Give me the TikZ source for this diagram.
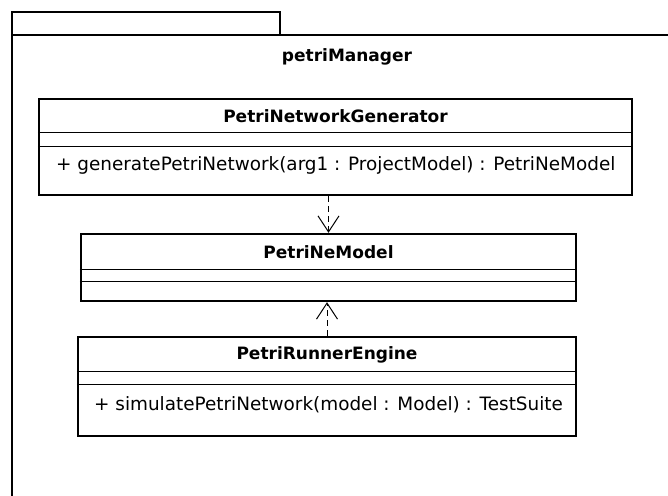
\documentclass[tikz,border=0pt]{standalone}
\usepackage{fontspec}
\setmainfont{DejaVu Sans}
\usetikzlibrary{arrows.meta,calc}
\begin{document}
\begin{tikzpicture}[x=1pt,y=-1pt,
  frame/.style={line width=2.4pt,line cap=rect},
  classbox/.style={draw,line width=2.4pt,rectangle,inner sep=0pt},
  sepline/.style={line width=1.1pt},
  classtitle/.style={font=\fontsize{17}{20}\selectfont\bfseries,inner sep=0pt},
  member/.style={font=\fontsize{18.4}{21}\selectfont,inner sep=0pt,anchor=west},
  dep/.style={line width=1pt,dash pattern=on 6pt off 4pt,
    -{Straight Barb[length=16pt,width=21pt,line width=1pt]}}]
\useasboundingbox (0,0) rectangle (668,495);
\clip (0,0) rectangle (668,495);
\fill[white] (0,0) rectangle (668,495);

% package frame: tab and body (body runs past the page edges)
\draw[frame] (12,12) rectangle (280,35);
\draw[frame] (12,520) -- (12,35) -- (700,35);
\node[classtitle] (pkg) at (347,57) {petriManager};

% class PetriNetworkGenerator
\node[classbox,minimum width=593pt,minimum height=96pt] (gen) at (335.5,147) {};
\node[classtitle] (gentitle) at (335.5,116.5) {PetriNetworkGenerator};
\draw[sepline] ($(gen.north west)+(0,35)$) -- ($(gen.north east)+(0,35)$);
\draw[sepline] ($(gen.north west)+(0,49)$) -- ($(gen.north east)+(0,49)$);
\node[member] (genop) at (56,165) {+ generatePetriNetwork(arg1 : ProjectModel) : PetriNeModel};

% class PetriNeModel
\node[classbox,minimum width=495pt,minimum height=67pt] (model) at (328.5,267.5) {};
\node[classtitle] (modeltitle) at (328.5,252.5) {PetriNeModel};
\draw[sepline] ($(model.north west)+(0,37)$) -- ($(model.north east)+(0,37)$);
\draw[sepline] ($(model.north west)+(0,49)$) -- ($(model.north east)+(0,49)$);

% class PetriRunnerEngine
\node[classbox,minimum width=498pt,minimum height=99pt] (runner) at (327,386.5) {};
\node[classtitle] (runnertitle) at (327,355) {PetriRunnerEngine};
\draw[sepline] ($(runner.north west)+(0,36)$) -- ($(runner.north east)+(0,36)$);
\draw[sepline] ($(runner.north west)+(0,49)$) -- ($(runner.north east)+(0,49)$);
\node[member] (runop) at (94,405) {+ simulatePetriNetwork(model : Model) : TestSuite};

% dependencies
\draw[dep] (gen.south -| model.north) -- (model.north);
\draw[dep] (runner.north) -- (model.south -| runner.north);
\end{tikzpicture}
\end{document}
